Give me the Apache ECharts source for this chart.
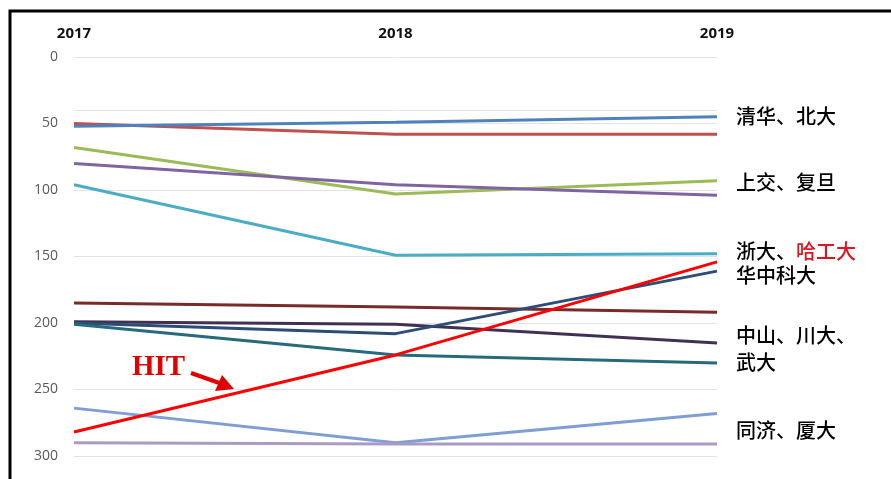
<!DOCTYPE html>
<html><head><meta charset="utf-8">
<script src="https://cdn.jsdelivr.net/npm/echarts@6/dist/echarts.min.js"></script>
<style>html,body{margin:0;padding:0;background:#fff}#c{width:891px;height:479px}</style>
</head><body><div id="c"></div>
<script>
const years = ['2017', '2018', '2019'];
const yTicks = [0, 50, 100, 150, 200, 250, 300];
const tsinghua = [52, 49, 45];
const peking = [50, 58, 58];
const sjtu = [68, 103, 93];
const fudan = [80, 96, 104];
const zju = [96, 149, 148];
const hust = [200, 208, 161];
const sysu = [185, 188, 192];
const scu = [199, 201, 215];
const whu = [201, 224, 230];
const tongji = [264, 290, 268];
const xmu = [290, 291, 291];
const hit = [282, 224, 154];
const rightLabels = [
  {text: '清华、北大', v: 46},
  {text: '上交、复旦', v: 96},
  {text: '浙大、', red: '哈工大', v: 148},
  {text: '华中科大', v: 166},
  {text: '中山、川大、', v: 211},
  {text: '武大', v: 231},
  {text: '同济、厦大', v: 282}
];

const seriesDefs = [
  ['北大', peking, '#C0504D'],
  ['清华', tsinghua, '#4F81BD'],
  ['上交', sjtu, '#9BBB59'],
  ['复旦', fudan, '#8064A2'],
  ['浙大', zju, '#4BACC6'],
  ['中山', sysu, '#772C2A'],
  ['川大', scu, '#403152'],
  ['华中科大', hust, '#2C4D75'],
  ['武大', whu, '#276A7C'],
  ['同济', tongji, '#7F9ED4'],
  ['厦大', xmu, '#A99BC6'],
  ['哈工大', hit, '#FF0000']
];

const chart = echarts.init(document.getElementById('c'), null, {renderer: 'canvas'});
const grid = {left: 74, right: 174, top: 57, bottom: 23};

const series = seriesDefs.map(([name, data, color]) => ({
  name, type: 'line', data, symbol: 'none', smooth: false,
  lineStyle: {color, width: 3}, itemStyle: {color}, z: name === '哈工大' ? 5 : 2
}));
series.push({
  type: 'line', data: [], silent: true,
  markLine: {symbol: 'none', silent: true, label: {show: false},
    lineStyle: {color: '#E3E3E3', width: 1, type: 'solid'},
    data: [{yAxis: 40}]}
});

chart.setOption({
  animation: false,
  grid,
  xAxis: {
    type: 'category', data: years, position: 'top', boundaryGap: false,
    axisLine: {show: false}, axisTick: {show: false},
    axisLabel: {color: '#111', fontWeight: 'bold', fontSize: 15, fontFamily: 'Open Sans', margin: 16}
  },
  yAxis: {
    type: 'value', inverse: true, min: yTicks[0], max: yTicks[yTicks.length - 1], interval: 50,
    axisLine: {show: false}, axisTick: {show: false},
    axisLabel: {color: '#595959', fontSize: 14, fontFamily: 'Open Sans', margin: 16},
    splitLine: {lineStyle: {color: '#E3E3E3', width: 1}}
  },
  series
});

function buildGraphics() {
  const els = [];
  rightLabels.forEach(l => {
    const y = chart.convertToPixel({yAxisIndex: 0}, l.v);
    els.push({
      type: 'text', left: 736, top: y - 12,
      style: {
        text: l.red ? '{a|' + l.text + '}{b|' + l.red + '}' : '{a|' + l.text + '}',
        rich: {
          a: {fill: '#000', font: '500 20px "Noto Sans CJK SC"'},
          b: {fill: '#E0141E', font: '500 20px "Noto Sans CJK SC"'}
        }
      }
    });
  });
  els.push({type: 'text', left: 132, top: 353,
    style: {text: 'HIT', fill: '#E00000', font: 'bold 29px "Liberation Serif"'}});
  els.push({type: 'line', shape: {x1: 191, y1: 373, x2: 225, y2: 385},
    style: {stroke: '#E00000', lineWidth: 4}});
  els.push({type: 'polygon', shape: {points: [[234, 389], [215, 391], [222, 375]]},
    style: {fill: '#E00000'}});
  els.push({type: 'rect', shape: {x: 10, y: 11, width: 900, height: 500},
    style: {fill: 'none', stroke: '#000', lineWidth: 3}, z: 100});
  chart.setOption({graphic: els});
}
buildGraphics();
</script></body></html>
